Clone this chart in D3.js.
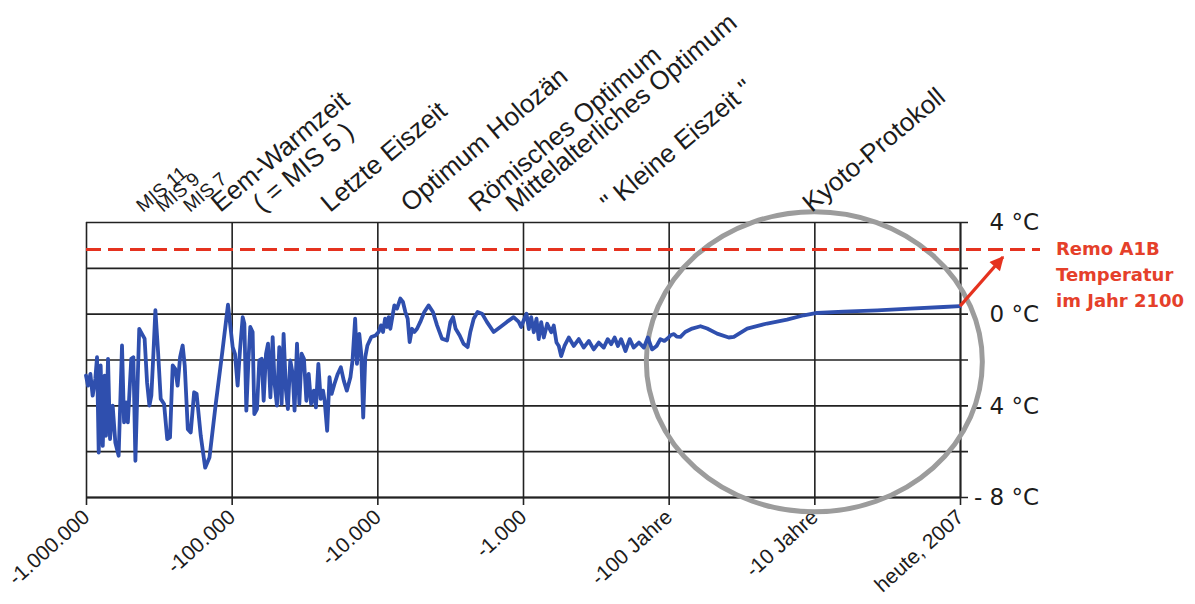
<!DOCTYPE html>
<html>
<head>
<meta charset="utf-8">
<script src="https://cdn.jsdelivr.net/npm/d3@7"></script>
<style>
  html, body { margin: 0; padding: 0; background: #fff; }
  svg { display: block; }
  text { font-family: "DejaVu Sans", sans-serif; fill: #1c1c1c; }
  .rot { font-family: "Liberation Sans", Arial, sans-serif; }
</style>
</head>
<body>
<svg id="chart" width="1195" height="604"></svg>
<script>
// Temperature reconstruction: years before 2007 (log axis) and deviation in °C
const yearsAgo = [
  1000000, 969000, 933000, 900000, 863000, 840000, 818000, 793000, 767000, 745000,
  729000, 706000, 684000, 656000, 629000, 597000, 566000, 548000, 531000, 516000,
  489000, 473000, 458000, 445000, 431000, 413000, 396000, 381000, 367000, 356000,
  345000, 334000, 320000, 307000, 291000, 277000, 265000, 254000, 244000, 235000,
  226000, 217000, 210000, 200000, 191000, 181000, 174000, 163000, 152000, 142000,
  129000, 116000, 106000,
  98400, 94900, 91000, 87700, 84000, 81800, 79300, 76700, 74500, 71800,
  69900, 67000, 64600, 62200, 60300, 58100, 56300, 54200, 52300, 50700,
  48900, 47100, 45400, 44000, 42400, 41100, 39600, 38100, 37000, 35600,
  34300, 33100, 31900, 30700, 29600, 28500, 27300, 26400, 25400, 24500,
  23600, 23000, 22100, 21300, 20600, 19700, 18700, 17800, 17000, 16200,
  15300, 14800, 14200, 13800, 13300, 12900, 12500, 12100, 11700, 11000,
  10300, 9800, 9440, 9140, 8850, 8570, 8360, 8140, 7890, 7640,
  7330, 6950, 6670, 6420, 6190, 6000, 5780, 5570, 5340, 5070,
  4760, 4450, 4150, 3890, 3600, 3320, 3150, 3020, 2900, 2720,
  2560, 2400, 2300, 2180, 2050, 1910, 1770, 1590, 1430, 1290,
  1160, 1070, 1030,
  990, 946, 912, 879, 843, 808, 780, 750, 720, 682,
  640, 615, 589, 568, 547, 519, 485, 448, 414, 383,
  353, 327, 302, 279, 262, 248, 235, 223, 212, 198,
  185, 174, 160, 148, 139, 130, 121, 114, 107, 100,
  97, 92, 88, 83, 77, 69, 60.5, 54.4, 46.5, 38.7,
  35.7, 28.9, 21.1, 15.4, 11.8, 9.6, 6.3, 3.7, 2.2, 1.3,
  1
];
const tempAnomaly = [
  -2.7, -3.14, -2.63, -3.58, -2.85, -1.9, -6.06, -2.26, -5.77, -2.7,
  -5.33, -1.97, -5.47, -4.01, -5.62, -6.2, -1.39, -4.74, -3.87, -4.74,
  -1.97, -1.9, -6.42, -3.58, -0.66, -0.88, -1.09, -2.99, -4.01, -3.58,
  -1.82, 0.15, -1.68, -3.72, -3.94, -5.47, -5.4, -2.26, -2.41, -3.14,
  -1.9, -1.39, -2.26, -5.04, -5.18, -3.43, -3.5, -5.33, -6.72, -6.28,
  -4.01, -1.68, 0.39,
  -1.46, -1.75, -3.14, -1.6, -0.15, -0.44, -4.23, -2.04, -0.58, -0.8,
  -4.38, -4.16, -2.04, -1.97, -3.8, -1.75, -1.31, -3.65, -1.02, -3.07,
  -4.01, -1.46, -3.94, -0.88, -3.36, -4.16, -2.04, -2.63, -4.23, -1.31,
  -3.94, -1.75, -1.97, -3.8, -2.63, -3.94, -3.36, -4.09, -2.19, -3.72,
  -3.36, -3.8, -5.11, -2.77, -3.5, -3.07, -2.63, -2.34, -2.92, -3.36,
  -2.77, -2.04, -0.22, -2.19, -0.88, -1.75, -4.53, -1.9, -1.39, -1.02,
  -0.95, -0.8, -0.51, -0.8, -0.22, -0.58, -0.15, -0.66, -0.15, 0.36,
  0.22, 0.66, 0.51, 0.07, -0.22, -1.24, -0.66, -0.8, -0.66, -0.36,
  0.07, 0.36, 0.07, -0.51, -1.09, -1.17, -0.36, -0.15, -0.66, -0.95,
  -1.31, -1.46, -0.8, -0.22, 0.07, 0, -0.36, -0.8, -0.58, -0.36,
  -0.15, -0.36, -0.58,
  -0.3, 0, -0.67, -0.15, -0.81, -0.22, -1.11, -0.37, -1.04, -0.44,
  -0.81, -0.52, -1.26, -1.41, -1.85, -1.41, -1.04, -1.41, -1.11, -1.48,
  -1.19, -1.56, -1.26, -1.48, -1.11, -1.33, -1.04, -1.41, -1.11, -1.63,
  -1.11, -1.48, -1.26, -1.48, -1.04, -1.56, -1.41, -1.11, -1.19, -1.04,
  -0.94, -0.89, -1.0, -1.01, -0.8, -0.65, -0.55, -0.65, -0.87, -1.04,
  -1.01, -0.65, -0.43, -0.26, -0.07, 0.03, 0.09, 0.14, 0.22, 0.29,
  0.33
];

// Axis ticks
const xTickYears = [1000000, 100000, 10000, 1000, 100, 10, 1];
const xTickLabels = ["-1.000.000", "-100.000", "-10.000", "-1.000", "-100 Jahre", "-10 Jahre", "heute, 2007"];
const yTickValues = [-8, -6, -4, -2, 0, 2, 4];
const yTickLabels = ["- 8 °C", "", "- 4 °C", "", "0 °C", "", "4 °C"];

// Climate periods marked above the plot
const eventLabels = ["MIS 11", "MIS 9", "MIS 7", "Eem-Warmzeit", "( = MIS 5 )", "Letzte Eiszeit",
  "Optimum Holozän", "Römisches Optimum", "Mittelalterliches Optimum", "\" Kleine Eiszeit \"", "Kyoto-Protokoll"];
const eventYears = [406000, 296000, 193000, 120000, 62000, 21100, 5970, 2040, 1135, 253, 10.4];

// Scenario for 2100 and the highlighted recent period
const scenarioTemp = 2.8;
const scenarioArrowTemp = 2.47;
const scenarioLabel = ["Remo A1B", "Temperatur", "im Jahr 2100"];
const focusYears = 10;
const focusTemp = -2.1;

const svg = d3.select("#chart");
const plotLeft = 86, plotRight = 960, plotTop = 222, plotBottom = 497;

const x = d3.scaleLog().domain([1000000, 1]).range([plotLeft, plotRight]);
const y = d3.scaleLinear().domain([-8, 4]).range([plotBottom, plotTop]);

const gridColor = "#222";

// bottom axis with full-height grid lines
const xAxis = svg.append("g")
  .attr("transform", `translate(0,${plotBottom})`)
  .call(d3.axisBottom(x).tickValues(xTickYears).tickSizeOuter(0).tickFormat(""));
xAxis.select(".domain").attr("stroke", gridColor).attr("stroke-width", 1.8);
xAxis.selectAll(".tick line")
  .attr("y1", 8).attr("y2", plotTop - plotBottom)
  .attr("stroke", gridColor).attr("stroke-width", 1.6);

// right axis with full-width grid lines
const yAxis = svg.append("g")
  .attr("transform", `translate(${plotRight},0)`)
  .call(d3.axisRight(y).tickValues(yTickValues).tickSizeOuter(0).tickFormat(""));
yAxis.select(".domain").attr("stroke", gridColor).attr("stroke-width", 1.8);
yAxis.selectAll(".tick line")
  .attr("x1", plotLeft - plotRight).attr("x2", 8)
  .attr("stroke", gridColor).attr("stroke-width", 1.6);

// bottom tick labels (rotated)
svg.append("g").selectAll("text")
  .data(xTickYears)
  .join("text")
  .attr("class", "rot")
  .attr("transform", d => `translate(${x(d) + 5},${plotBottom + 22}) rotate(-42)`)
  .attr("text-anchor", "end")
  .style("font-size", "21px")
  .text((d, i) => xTickLabels[i]);

// right tick labels
svg.append("g").selectAll("text")
  .data(yTickValues)
  .join("text")
  .attr("x", 1039)
  .attr("y", d => y(d))
  .attr("dy", "0.36em")
  .attr("text-anchor", "end")
  .style("font-size", "23px")
  .text((d, i) => yTickLabels[i]);

// highlighted recent period
svg.append("ellipse")
  .attr("cx", x(focusYears))
  .attr("cy", y(focusTemp))
  .attr("rx", 168)
  .attr("ry", 150)
  .attr("fill", "none")
  .attr("stroke", "#9c9c9c")
  .attr("stroke-width", 5);

// scenario level for 2100
const red = "#e5321f";
svg.append("line")
  .attr("x1", plotLeft).attr("x2", 1040)
  .attr("y1", y(scenarioTemp)).attr("y2", y(scenarioTemp))
  .attr("stroke", red)
  .attr("stroke-width", 3.2)
  .attr("stroke-dasharray", "15,7");

// temperature curve
const line = d3.line()
  .x((d, i) => x(yearsAgo[i]))
  .y(d => y(d))
  .curve(d3.curveLinear);
svg.append("path")
  .datum(tempAnomaly)
  .attr("d", line)
  .attr("fill", "none")
  .attr("stroke", "#2f4fae")
  .attr("stroke-width", 3.8)
  .attr("stroke-linejoin", "round")
  .attr("stroke-linecap", "round");

// arrow from today's value towards the 2100 scenario
const defs = svg.append("defs");
defs.append("marker")
  .attr("id", "arrowhead")
  .attr("viewBox", "0 0 10 10")
  .attr("refX", 9).attr("refY", 5)
  .attr("markerWidth", 16).attr("markerHeight", 14)
  .attr("markerUnits", "userSpaceOnUse")
  .attr("orient", "auto")
  .append("path")
  .attr("d", "M0,0 L10,5 L0,10 Z")
  .attr("fill", red);
const lastIdx = yearsAgo.length - 1;
svg.append("line")
  .attr("x1", x(yearsAgo[lastIdx]))
  .attr("y1", y(tempAnomaly[lastIdx]))
  .attr("x2", x(yearsAgo[lastIdx]) + 43)
  .attr("y2", y(scenarioArrowTemp))
  .attr("stroke", red)
  .attr("stroke-width", 3.2)
  .attr("marker-end", "url(#arrowhead)");

// scenario text
svg.append("g").selectAll("text")
  .data(scenarioLabel)
  .join("text")
  .attr("x", 1056)
  .attr("y", (d, i) => 255 + i * 26)
  .style("font-size", "18px")
  .style("font-weight", "bold")
  .style("fill", "#e5402a")
  .text(d => d);

// period labels above the plot
svg.append("g").selectAll("text")
  .data(eventYears)
  .join("text")
  .attr("class", "rot")
  .attr("transform", d => `translate(${x(d)},${plotTop - 9}) rotate(-40)`)
  .style("font-size", (d, i) => eventLabels[i].startsWith("MIS ") ? "19px" : "26px")
  .text((d, i) => eventLabels[i]);
</script>
</body>
</html>
